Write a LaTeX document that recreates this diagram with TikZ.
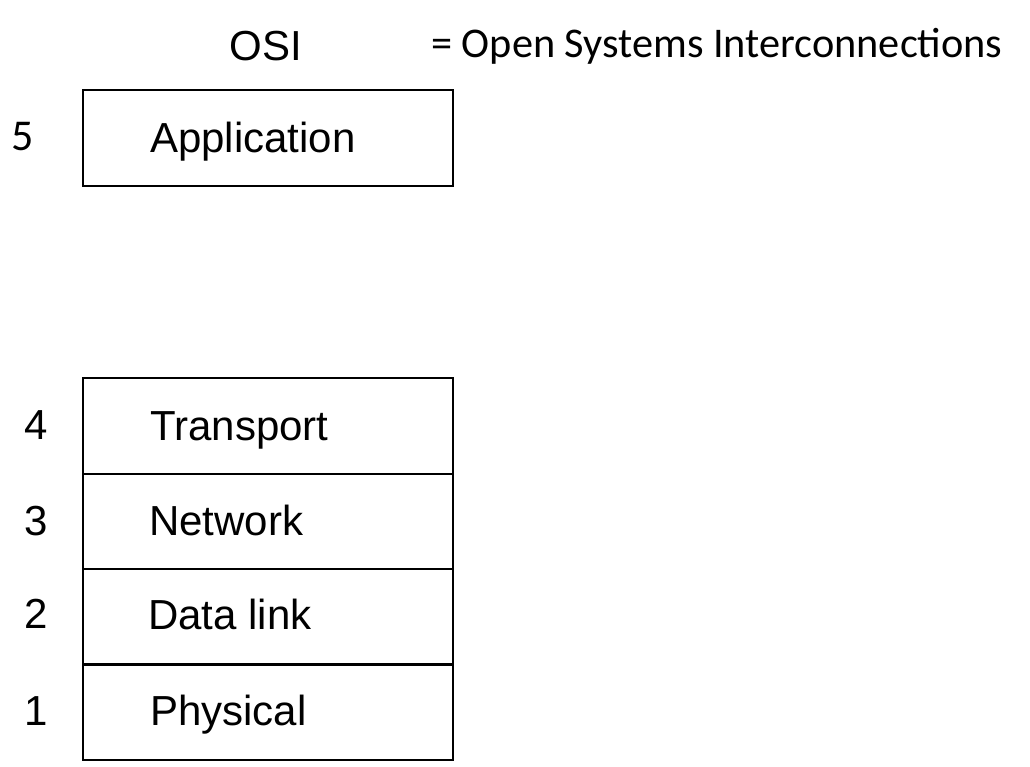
\documentclass[tikz,border=0pt]{standalone}
\usepackage{fontspec}
\newfontfamily\hvfont{Liberation Sans}
\newfontfamily\cbfont{Carlito}
\begin{document}
\begin{tikzpicture}[x=1pt,y=-1pt,
  layer/.style={draw,line width=2.2pt,minimum width=370pt,minimum height=95.5pt,inner sep=0pt,anchor=north west},
  ltext/.style={anchor=base west,inner sep=0pt,font=\hvfont\fontsize{42}{50}\selectfont},
  lnum/.style={anchor=base,inner sep=0pt,font=\hvfont\fontsize{42}{50}\selectfont},
  cbtext/.style={inner sep=0pt,font=\cbfont\fontsize{42.3}{50}\selectfont}]
\useasboundingbox (0,0) rectangle (1030,766);
% title
\node[lnum] (osi) at (266,60) {OSI};
\node[cbtext,anchor=base west] (def) at (431,57.5) {= Open Systems Interconnections};
% application layer
\node[layer] (app) at (82,89) {};
\node[ltext] (apptext) at (150,152) {Application};
\node[cbtext,anchor=base,font=\cbfont\fontsize{44}{50}\selectfont] (n5) at (23,150) {5};
% lower stack
\node[layer] (trans) at (82,377) {};
\node[layer] (net) at (82,472.5) {};
\node[layer] (dl) at (82,568) {};
\node[layer] (phys) at (82,663) {};
\node[ltext] (transtext) at (150,440) {Transport};
\node[ltext] (nettext) at (149,535) {Network};
\node[ltext] (dltext) at (148,629) {Data link};
\node[ltext] (physstext) at (150,725) {Physical};
\node[lnum] (n4) at (36,439) {4};
\node[lnum] (n3) at (36,535) {3};
\node[lnum] (n2) at (36,628) {2};
\node[lnum] (n1) at (36,725) {1};
\end{tikzpicture}
\end{document}
